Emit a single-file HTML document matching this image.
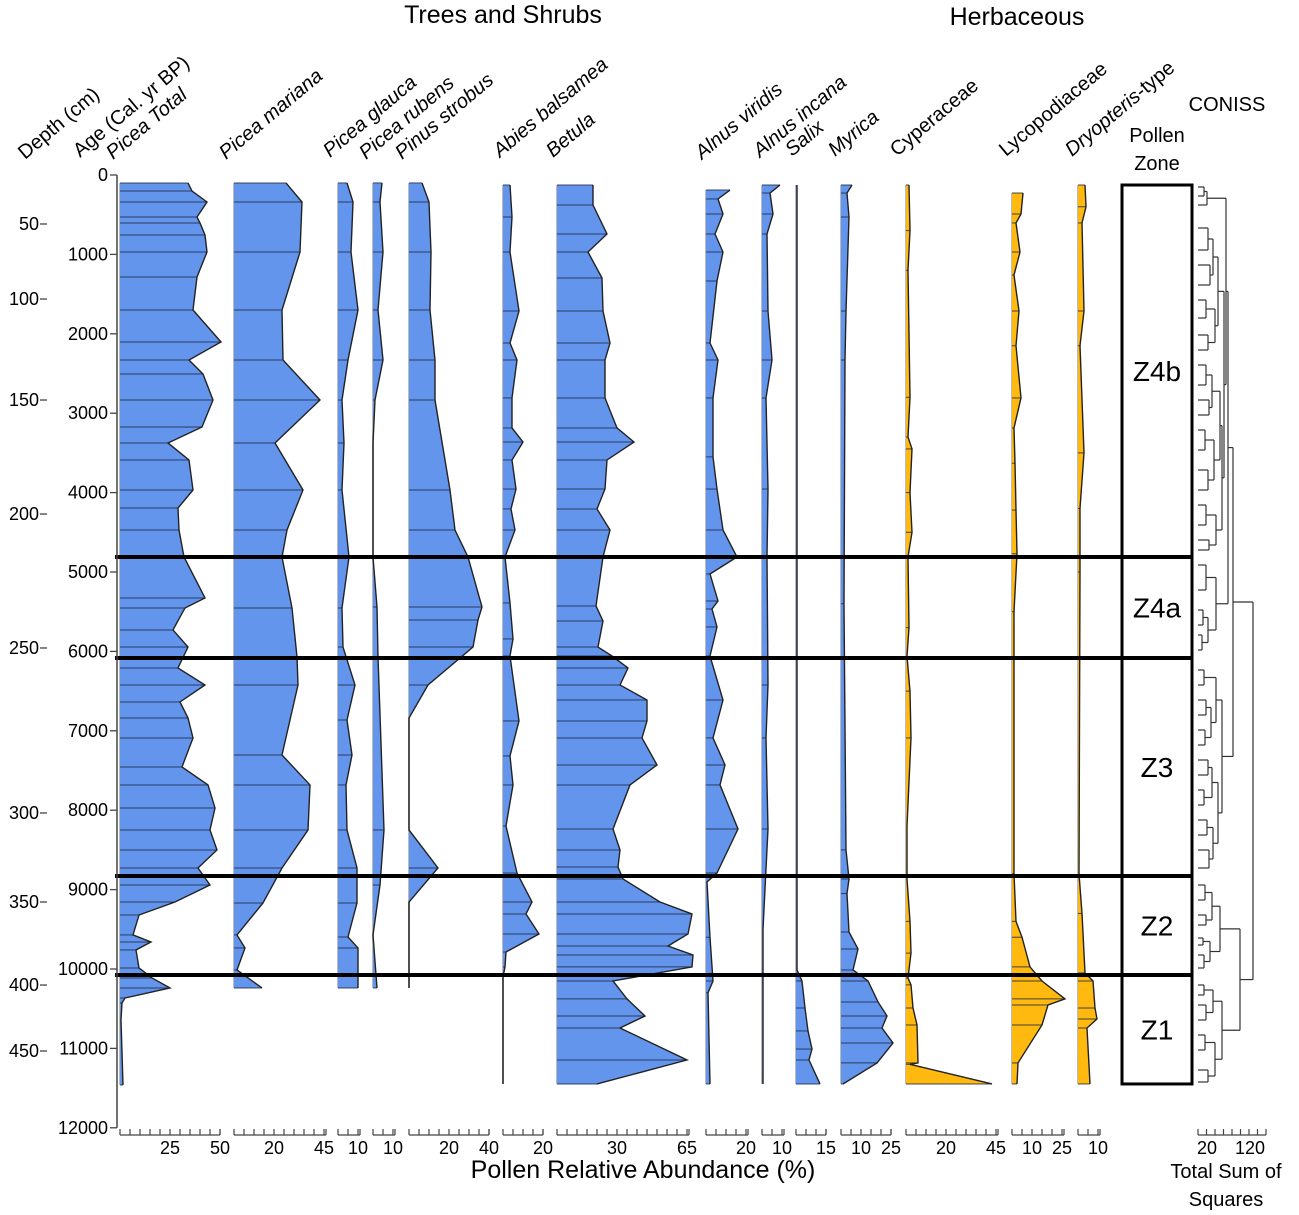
<!DOCTYPE html>
<html><head><meta charset="utf-8"><style>
body{margin:0;background:#fff;}
svg{display:block;font-family:"Liberation Sans",sans-serif;}
</style></head><body>
<svg id="chart" width="1299" height="1215" viewBox="0 0 1299 1215" xmlns="http://www.w3.org/2000/svg">
<g id="labels">
<text x="503" y="23" font-size="25" text-anchor="middle">Trees and Shrubs</text>
<text x="1017" y="25" font-size="25" text-anchor="middle">Herbaceous</text>
<text x="1227" y="111" font-size="20" text-anchor="middle">CONISS</text>
<text x="1157" y="142" font-size="20" text-anchor="middle">Pollen</text>
<text x="1157" y="170" font-size="20" text-anchor="middle">Zone</text>
<text x="643" y="1178" font-size="25" text-anchor="middle">Pollen Relative Abundance (%)</text>
<text x="1226" y="1178" font-size="20" text-anchor="middle">Total Sum of</text>
<text x="1226" y="1206" font-size="20" text-anchor="middle">Squares</text>
</g>
<g id="panels"></g>
<g id="zones"></g>
<g id="axes"></g>
<g id="dendro"></g>
</svg>
<script>
const ageTicks=[0,1000,2000,3000,4000,5000,6000,7000,8000,9000,10000,11000,12000];
const depthTickLabels=[50,100,150,200,250,300,350,400,450];
const depthTickAges=[617,1562,2834,4270,5957,8035,9156,10202,11033];
const zoneBoundaryAges=[4811,6083,8829,10075];
const zoneNames=["Z4b","Z4a","Z3","Z2","Z1"];
const zoneTopAge=126, zoneBottomAge=11448;

const piceaTotalAges=[100,202,340,529,604,756,970,1285,1700,2103,2330,2506,2834,3174,3375,3589,3967,4194,4471,4811,5327,5453,5730,5945,6209,6423,6637,6839,7090,7456,7682,7972,8249,8501,8728,8942,9156,9320,9571,9660,9760,9987,10113,10239,10365,10428,10642,11461];
const piceaTotalVals=[34,36,43.5,38.5,40,42.5,43.5,38.5,36.5,50.5,34.5,41.5,46.5,41,24,34.5,36.5,29,29.5,32,42.5,32.5,26.5,34,29,42.5,30,34,36.5,31,44,47.5,45,48.5,39,45,27.5,9.5,6.5,15.5,8,9.5,16,25,2.5,1,0.5,1.5];
const marianaAges=[100,340,970,1700,2330,2834,3375,3967,4471,4811,5453,6070,6423,7305,7682,8249,8728,9168,9571,9735,10012,10239];
const marianaVals=[26,34,33,24,24.5,43,20.5,34.5,26.5,24,29,31.5,32,24,38,37,24,14.5,1.5,5.5,1.5,14];
const glaucaAges=[100,340,970,1700,2330,2834,3375,3967,4811,5453,5945,6423,6864,7305,7682,8249,8728,9168,9597,9735,10239];
const glaucaVals=[4.5,7.5,6.5,10,5,2,3,2,5.5,2,2.5,8.5,4.5,7,4,4.5,9.5,9.5,5,10,10];
const rubensAges=[100,340,970,1700,2330,2834,3375,4811,5441,6070,8249,8942,9571,10239];
const rubensVals=[4.5,3.5,5,2.5,5,1,0,0,2,2.5,5.5,3.5,0,2];
const pinusAges=[100,340,970,1700,2330,2834,3967,4471,4811,5441,5604,5945,6423,6839,8249,8728,9156,10239];
const pinusVals=[6.5,10,11,10.5,13,13,20.5,23,29.5,36.5,34.5,32,9.5,0,0,14.5,0,0];
const abiesAges=[126,529,970,1713,2116,2330,2808,3186,3363,3589,3955,4206,4471,4811,5390,5843,6058,6876,7317,7682,8199,8791,9156,9307,9559,9786,9974,10100,11448];
const abiesVals=[3.5,4.5,3.5,8,3.5,7,4.5,4.5,10,4.5,6.5,4,6,1,3.5,5,3.5,8,3.5,5,1.5,7,14.5,11.5,18,1.5,1,0,0];
const betulaAges=[126,378,743,970,1297,1713,2116,2330,2808,3186,3363,3589,3955,4206,4471,4811,5428,5617,5945,6058,6209,6423,6612,6876,7090,7430,7682,8237,8501,8715,8866,9156,9307,9559,9710,9823,9974,10151,10377,10592,10743,11146,11448];
const betulaVals=[18,18,25,15.5,22.5,23,26.5,24,24,30,38.5,25,24,20,26.5,23,19.5,23,20.5,27.5,35.5,31.5,45,45,42.5,50,36.5,28,31.5,30.5,33,51.5,67.5,65.5,55.5,68,67.5,28,35,44,31.5,65,20];
const viridisAges=[189,302,491,743,970,1335,2116,2330,2808,3550,3955,4471,4811,5025,5365,5466,5692,6058,6612,7090,7430,7682,8237,8791,8904,9600,10151,10300,11448];
const viridisVals=[12,6,8.5,4.5,8.5,5.5,2,6,3.5,3.5,5.5,8.5,15.5,2,6,3,5.5,2,8.5,3.5,9.5,7,16,5.5,0.5,2,3.5,1,2];
const incanaAges=[126,227,491,743,1713,2330,2808,3955,4811,6423,7090,8237,9500,11448];
const incanaVals=[9,4,5.5,2.5,3,5,2,3,2.5,3,2,3,0.5,0.5];
const salixAges=[126,10012,10151,10491,10780,11008,11146,11448];
const salixVals=[0.5,0.5,3,4.5,6,8,6.5,12];
const myricaAges=[126,227,529,1713,2330,5400,8500,8866,9050,9534,9748,10012,10151,10415,10592,10743,10932,11183,11448];
const myricaVals=[5.5,3,4,2.5,2,1.5,2.5,4,3,4,8.5,6,13.5,18.5,23,20.5,26,18,1];
const cyperAges=[126,700,1200,2800,3300,3450,4000,4500,4811,5700,6058,6500,7090,8200,8866,9400,9800,10113,10200,10491,10705,11183,11200,11448];
const cyperVals=[1.5,2,1,2,1,3,2,3,1,1.5,0.5,2,2.5,0.5,0.5,2,2.5,1,2.5,3.5,5.5,6,2,43];
const lycoAges=[227,491,604,970,1260,1713,2150,2808,3186,3630,4220,4770,5500,8800,9400,9600,9974,10151,10377,10453,10705,11183,11448];
const lycoVals=[5.5,4.5,2,4,1,3.5,2,4.5,1,1.5,2,2.5,1,1,2,5,9,15,26.5,18,15,3,2.5];
const dryoAges=[126,400,604,1713,2150,3500,4200,5000,8800,9300,10050,10151,10491,10629,10743,11448];
const dryoVals=[3.5,4,2,3,1,3,1,1,0.5,2,3.5,7.5,8.5,9.5,4.5,6];

const NS="http://www.w3.org/2000/svg";
const yOf=a=>175+a*0.0794;
const PX=2;
function mk(tag,attrs,parent){const e=document.createElementNS(NS,tag);for(const k in attrs)e.setAttribute(k,attrs[k]);parent.appendChild(e);return e;}
const BLUE="#6495ed",YEL="#ffb90f";
const panels=[
 {key:"picea-total",label:"Picea Total",it:true,base:120,axMax:50,ticks:[25,50],ages:piceaTotalAges,vals:piceaTotalVals,col:BLUE,lx:113,ly:160},
 {key:"picea-mariana",label:"Picea mariana",it:true,base:234,axMax:46,ticks:[20,45],ages:marianaAges,vals:marianaVals,col:BLUE,lx:226,ly:160},
 {key:"picea-glauca",label:"Picea glauca",it:true,base:338,axMax:11,ticks:[10],ages:glaucaAges,vals:glaucaVals,col:BLUE,lx:330,ly:158},
 {key:"picea-rubens",label:"Picea rubens",it:true,base:373,axMax:11,ticks:[10],ages:rubensAges,vals:rubensVals,col:BLUE,lx:366,ly:160},
 {key:"pinus-strobus",label:"Pinus strobus",it:true,base:409,axMax:40,ticks:[20,40],ages:pinusAges,vals:pinusVals,col:BLUE,lx:402,ly:160},
 {key:"abies-balsamea",label:"Abies balsamea",it:true,base:503,axMax:20,ticks:[20],ages:abiesAges,vals:abiesVals,col:BLUE,lx:500,ly:158},
 {key:"betula",label:"Betula",it:true,base:557,axMax:66,ticks:[30,65],ages:betulaAges,vals:betulaVals,col:BLUE,lx:553,ly:158},
 {key:"alnus-viridis",label:"Alnus viridis",it:true,base:706,axMax:21,ticks:[20],ages:viridisAges,vals:viridisVals,col:BLUE,lx:702,ly:160},
 {key:"alnus-incana",label:"Alnus incana",it:true,base:762,axMax:11,ticks:[10],ages:incanaAges,vals:incanaVals,col:BLUE,lx:760,ly:158},
 {key:"salix",label:"Salix",it:true,base:796,axMax:15,ticks:[15],ages:salixAges,vals:salixVals,col:BLUE,lx:792,ly:157},
 {key:"myrica",label:"Myrica",it:true,base:841,axMax:25,ticks:[10,25],ages:myricaAges,vals:myricaVals,col:BLUE,lx:835,ly:157},
 {key:"cyperaceae",label:"Cyperaceae",it:false,base:906,axMax:46,ticks:[20,45],ages:cyperAges,vals:cyperVals,col:YEL,lx:897,ly:157},
 {key:"lycopodiaceae",label:"Lycopodiaceae",it:false,base:1012,axMax:26,ticks:[10,25],ages:lycoAges,vals:lycoVals,col:YEL,lx:1006,ly:157},
 {key:"dryopteris",label:"Dryopteris",it:true,base:1078,axMax:11,ticks:[10],ages:dryoAges,vals:dryoVals,col:YEL,lx:1072,ly:157}
];
const gP=document.getElementById('panels'), gA=document.getElementById('axes'), gZ=document.getElementById('zones'), gD=document.getElementById('dendro');
const gL=document.getElementById('labels');
panels.forEach(p=>{
  const g=mk('g',{},gP);
  
  
  const y0=yOf(p.ages[0]), yN=yOf(p.ages[p.ages.length-1]);
  const bl=mk('line',{x1:p.base,x2:p.base,y1:y0,y2:yN,stroke:'#bbb','stroke-width':2},g);
  
  
  let pts=p.base+','+y0+' ';
  p.ages.forEach((a,i)=>{pts+=(p.base+p.vals[i]*PX)+','+yOf(a)+' ';});
  pts+=p.base+','+yN;
  const poly=mk('polygon',{points:pts,fill:p.col,stroke:'none'},g);
  
  
  p.ages.forEach((a,i)=>{
    if(p.vals[i]<=0.6)return;
    const l=mk('line',{x1:p.base,x2:p.base+p.vals[i]*PX,y1:yOf(a),y2:yOf(a),stroke:'#1f2c48','stroke-width':1,opacity:0.85},g);
    
    
  });
  let lp='';
  p.ages.forEach((a,i)=>{lp+=(i?'L':'M')+(p.base+p.vals[i]*PX)+','+yOf(a);});
  const outl=mk('path',{d:lp,fill:'none',stroke:'#222','stroke-width':1.4},g);
  
  
  const ax=mk('g',{},gA);
  
  
  const xEnd=p.base+p.axMax*PX;
  mk('line',{x1:p.base,x2:xEnd,y1:1135,y2:1135,stroke:'#444','stroke-width':1.3},ax);
  for(let v=0;v<=p.axMax+0.01;v+=5){mk('line',{x1:p.base+v*PX,x2:p.base+v*PX,y1:1129,y2:1135,stroke:'#444','stroke-width':1.2},ax);}
  mk('line',{x1:xEnd,x2:xEnd,y1:1129,y2:1135,stroke:'#444','stroke-width':1.2},ax);
  p.ticks.forEach(t=>{
    const tx=mk('text',{x:p.base+t*PX,y:1154,'font-size':18,'text-anchor':'middle'},ax);
    
    
    tx.textContent=t;
  });
  const t=mk('text',{x:p.lx,y:p.ly,'font-size':20,transform:`rotate(-40 ${p.lx} ${p.ly})`,'font-style':p.it?'italic':'normal'},gL);
  
  
  if(p.key==='dryopteris'){t.textContent='Dryopteris';const ts=mk('tspan',{'font-style':'normal'},t);ts.textContent='-type';}
  else t.textContent=p.label;
});
[["Depth (cm)",25,160],["Age (Cal. yr BP)",80,158]].forEach(([s,x,y],i)=>{
  const t=mk('text',{x:x,y:y,'font-size':20,transform:`rotate(-40 ${x} ${y})`},gL);
  
  
  t.textContent=s;
});
const ya=mk('g',{},gA);


mk('line',{x1:117,x2:117,y1:yOf(0),y2:yOf(12000),stroke:'#444','stroke-width':1.5},ya);
ageTicks.forEach(a=>{
  mk('line',{x1:110,x2:117,y1:yOf(a),y2:yOf(a),stroke:'#444','stroke-width':1.3},ya);
  const t=mk('text',{x:108,y:yOf(a)+6,'font-size':18,'text-anchor':'end'},ya);
  
  
  t.textContent=a;
});
const da=mk('g',{},gA);


depthTickLabels.forEach((d,i)=>{
  const y=yOf(depthTickAges[i]);
  mk('line',{x1:40,x2:47,y1:y,y2:y,stroke:'#444','stroke-width':1.3},da);
  const t=mk('text',{x:39,y:y+6,'font-size':18,'text-anchor':'end'},da);
  
  
  t.textContent=d;
});
const zb=[zoneTopAge].concat(zoneBoundaryAges,[zoneBottomAge]);
const box=mk('rect',{x:1122,y:yOf(zoneTopAge),width:70,height:yOf(zoneBottomAge)-yOf(zoneTopAge),fill:'none',stroke:'#000','stroke-width':3},gZ);


zoneBoundaryAges.forEach(a=>{
  const l=mk('line',{x1:115,x2:1192,y1:yOf(a),y2:yOf(a),stroke:'#000','stroke-width':4},gZ);
  
  
});
zoneNames.forEach((z,i)=>{
  const ym=(yOf(zb[i])+yOf(zb[i+1]))/2;
  const t=mk('text',{x:1157,y:ym+10,'font-size':28,'text-anchor':'middle'},gZ);
  
  
  t.textContent=z;
});
const L=1198;
function br(a,b,x,xa,xb){
  mk('line',{x1:xa,x2:x,y1:a,y2:a,stroke:'#333','stroke-width':1.2},gD);
  mk('line',{x1:xb,x2:x,y1:b,y2:b,stroke:'#333','stroke-width':1.2},gD);
  mk('line',{x1:x,x2:x,y1:a,y2:b,stroke:'#333','stroke-width':1.2},gD);
  return (a+b)/2;
}
let a1=br(187,196,1204,L,L),b1=br(a1,205,1207,1204,L);
let c1=br(228,250,1208,L,L),d1=br(265,285,1210,L,L),e1=br(c1,d1,1213,1208,1210);
let f1=br(300,318,1206,L,L),g1=br(335,350,1208,L,L),h1=br(f1,g1,1215,1206,1208);
let i1=br(365,385,1206,L,L),j1=br(400,415,1209,L,L),k1=br(i1,j1,1212,1206,1209);
let l1=br(430,450,1205,L,L),m1=br(470,490,1208,L,L),n1=br(l1,m1,1214,1205,1208);
let o1=br(505,525,1206,L,L),p1=br(540,550,1209,L,L),q1=br(o1,p1,1216,1206,1209);
let r1=br(e1,h1,1218,1213,1215),s1=br(k1,n1,1220,1212,1214),t1=br(s1,q1,1222,1220,1216),u1=br(r1,t1,1224,1218,1222);
let top4b=br(b1,u1,1226,1207,1224);
let v1=br(565,590,1206,L,L),w1=br(610,625,1203,L,L),x1=br(635,650,1202,L,L),y1=br(w1,x1,1208,1203,1202),z4a=br(v1,y1,1216,1206,1208);
let z4=br(top4b,z4a,1228,1226,1216);
let p3a=br(670,685,1204,L,L),p3b=br(700,715,1206,L,L),p3c=br(730,745,1205,L,L),p3d=br(760,775,1208,L,L),p3e=br(790,805,1204,L,L),p3f=br(820,835,1207,L,L),p3g=br(850,868,1209,L,L);
let q3a=br(p3b,p3c,1211,1206,1205),q3b=br(p3d,p3e,1212,1208,1204),q3c=br(p3f,p3g,1213,1207,1209);
let r3a=br(p3a,q3a,1216,1204,1211),r3b=br(q3b,q3c,1218,1212,1213),z3=br(r3a,r3b,1222,1216,1218);
let z43=br(z4,z3,1233,1228,1222);
let p2a=br(885,900,1205,L,L),p2b=br(915,925,1206,L,L),p2c=br(938,945,1203,L,L),p2d=br(955,968,1204,L,L);
let q2a=br(p2a,p2b,1212,1205,1206),q2b=br(p2c,p2d,1210,1203,1204),z2=br(q2a,q2b,1220,1212,1210);
let p1a=br(985,995,1204,L,L),p1b=br(1005,1020,1206,L,L),p1c=br(1035,1050,1205,L,L),p1d=br(1070,1082,1208,L,L);
let q1a=br(p1a,p1b,1213,1204,1206),q1b=br(p1c,p1d,1215,1205,1208),z1=br(q1a,q1b,1222,1213,1215);
let z21=br(z2,z1,1240,1220,1222);
br(z43,z21,1253,1233,1240);
const cax=mk('g',{},gA);


mk('line',{x1:1198,x2:1266,y1:1135,y2:1135,stroke:'#444','stroke-width':1.3},cax);
for(let x=1198;x<=1266;x+=8.5)mk('line',{x1:x,x2:x,y1:1129,y2:1135,stroke:'#444','stroke-width':1.2},cax);
[["20",1207],["120",1250]].forEach(([s,x])=>{const t=mk('text',{x:x,y:1154,'font-size':18,'text-anchor':'middle'},cax);


t.textContent=s;});
</script>
</body></html>
